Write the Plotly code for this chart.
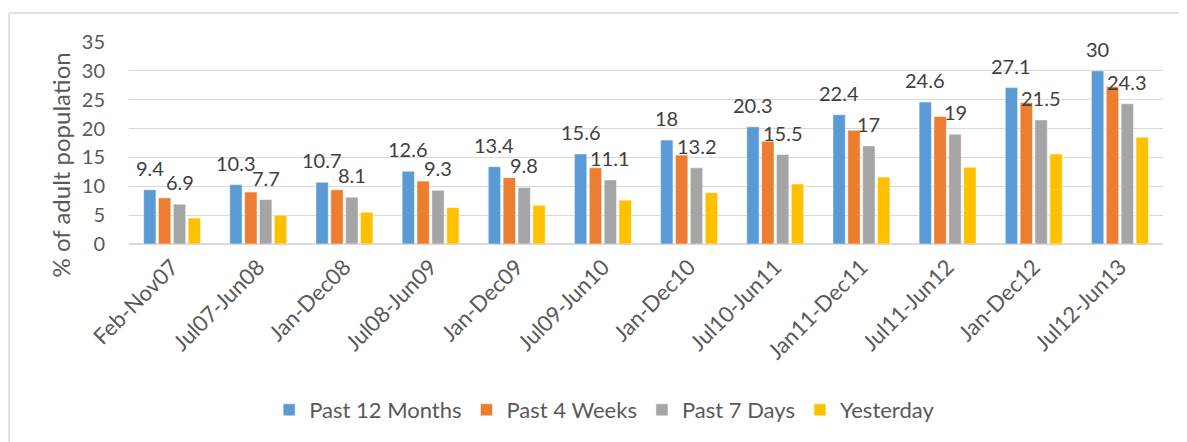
import plotly.graph_objects as go

categories = ["Feb-Nov07", "Jul07-Jun08", "Jan-Dec08", "Jul08-Jun09", "Jan-Dec09",
              "Jul09-Jun10", "Jan-Dec10", "Jul10-Jun11", "Jan11-Dec11", "Jul11-Jun12",
              "Jan-Dec12", "Jul12-Jun13"]
past_12_months = [9.4, 10.3, 10.7, 12.6, 13.4, 15.6, 18, 20.3, 22.4, 24.6, 27.1, 30]
past_4_weeks = [8.0, 9.0, 9.4, 10.9, 11.5, 13.2, 15.4, 17.8, 19.7, 22.1, 24.5, 27.3]
past_7_days = [6.9, 7.7, 8.1, 9.3, 9.8, 11.1, 13.2, 15.5, 17, 19, 21.5, 24.3]
yesterday = [4.5, 5.0, 5.5, 6.3, 6.7, 7.6, 8.9, 10.4, 11.6, 13.3, 15.6, 18.5]
y_title = "% of adult population"

series = [
    ("Past 12 Months", past_12_months, "#5B9BD5", True),
    ("Past 4 Weeks", past_4_weeks, "#ED7D31", False),
    ("Past 7 Days", past_7_days, "#A5A5A5", True),
    ("Yesterday", yesterday, "#FFC000", False),
]

FONT = "Lato, 'Open Sans', sans-serif"
TXT = "#595959"
GRID = "#D9D9D9"
BARGAP = 0.31
GROUPGAP = 0.17

fig = go.Figure()
for name, vals, color, _ in series:
    fig.add_trace(go.Bar(
        name=name, x=categories, y=vals,
        marker=dict(color=color, line=dict(color="rgba(255,255,255,0.6)", width=0.8)),
        hoverinfo="x+y+name",
    ))

# data labels for labelled series, placed above their bars
n = len(series)
slot = (1 - BARGAP) / n
annotations = []
for si, (name, vals, color, labelled) in enumerate(series):
    if not labelled:
        continue
    off = (si - (n - 1) / 2) * slot
    for ci, v in enumerate(vals):
        annotations.append(dict(
            x=ci + off, y=v, xref="x", yref="y",
            text=f"{v:g}", showarrow=False,
            yanchor="bottom", yshift=8,
            font=dict(family=FONT, size=20, color="#404040"),
        ))

# y-axis title (Excel places it slightly below the plot's vertical centre)
annotations.append(dict(
    text=y_title, xref="paper", yref="paper", x=-0.0667, y=0.389,
    xanchor="center", yanchor="middle", textangle=-90, showarrow=False,
    font=dict(family=FONT, size=24, color=TXT),
))

fig.update_layout(
    width=1179, height=434,
    margin=dict(l=121, r=24, t=34, b=197),
    paper_bgcolor="white", plot_bgcolor="white",
    barmode="group", bargap=BARGAP, bargroupgap=GROUPGAP,
    font=dict(family=FONT, color=TXT),
    showlegend=True,
    legend=dict(orientation="h", x=0.46, xanchor="center", y=-0.813, yanchor="middle",
                font=dict(family=FONT, size=22, color=TXT),
                itemclick=False, itemdoubleclick=False, traceorder="normal"),
    annotations=annotations,
    shapes=[
        dict(type="line", xref="paper", yref="paper", x0=-0.116, x1=1.03, y0=1.143, y1=1.143,
             line=dict(color=GRID, width=1.5)),
        dict(type="line", xref="paper", yref="paper", x0=-0.116, x1=-0.116, y0=1.143, y1=-1.0,
             line=dict(color=GRID, width=1.5)),
    ],
)
fig.update_yaxes(
    range=[0, 35], dtick=5, showgrid=True, gridcolor=GRID, gridwidth=1.3,
    zeroline=True, zerolinecolor=GRID, zerolinewidth=1.5,
    showline=False, ticks="", ticklabelstandoff=23,
    tickfont=dict(family=FONT, size=20, color=TXT),
    automargin=False,
)
fig.update_xaxes(
    tickangle=-45, showgrid=False, showline=False, ticks="",
    ticklabelstandoff=5,
    tickfont=dict(family=FONT, size=22, color=TXT),
    automargin=False,
)

fig.write_html("out.html")
